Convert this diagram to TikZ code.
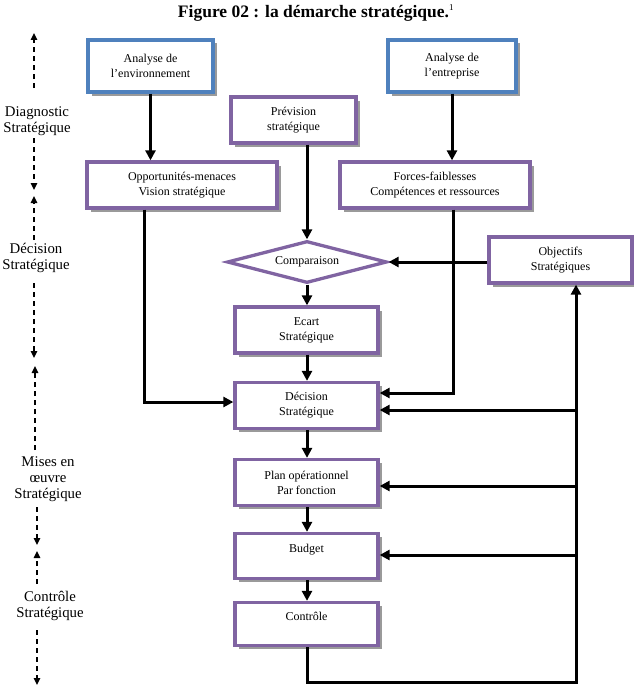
\documentclass[tikz,border=0pt]{standalone}
\usepackage{fontspec}
\setmainfont{Liberation Serif}
\usetikzlibrary{arrows.meta,shapes.geometric,shadows}
\definecolor{pur}{HTML}{8064A2}
\definecolor{blu}{HTML}{4F81BD}
\definecolor{shd}{HTML}{9A9A9A}
\begin{document}
\begin{tikzpicture}[x=1pt,y=-1pt,
  box/.style={rectangle, draw=pur, line width=3.3pt, fill=white, align=center,
    inner sep=0pt, font=\fontsize{12}{15}\selectfont,
    drop shadow={shadow xshift=3.5pt, shadow yshift=-3.5pt, fill=shd, opacity=1}},
  bbox/.style={box, draw=blu},
  cmpbox/.style={diamond, draw=pur, line width=3.3pt, fill=white, inner sep=0pt,
    aspect=3.8, minimum width=160pt, minimum height=42pt, font=\fontsize{12}{15}\selectfont},
  arr/.style={line width=3pt, line join=miter, -{Triangle[length=10pt,width=10pt]}},
  side/.style={line width=1.6pt, dash pattern=on 5pt off 4pt, -{Triangle[length=7pt,width=6.5pt]}},
  sidelbl/.style={align=center, font=\fontsize{14.8}{16}\selectfont, inner sep=0pt}
]
\useasboundingbox (0,0) rectangle (634,693);

% title
\node[inner sep=0pt] (title) at (316,13) {\fontsize{17.5}{20}\selectfont\bfseries Figure 02 : la démarche stratégique.\textsuperscript{\mdseries\fontsize{9}{10}\selectfont 1}};

% boxes
\node[bbox, minimum width=125pt, minimum height=52pt] (env) at (150.5,66) {Analyse de\\l’environnement};
\node[bbox, minimum width=128pt, minimum height=52pt] (ent) at (452,66) {Analyse de\\l’entreprise};
\node[box, minimum width=125pt, minimum height=46pt] (prev) at (293.5,120) {Prévision\\stratégique};
\node[box, minimum width=190pt, minimum height=46pt] (opp) at (182,185) {Opportunités-menaces\\Vision stratégique};
\node[box, minimum width=190pt, minimum height=46pt] (frc) at (435,185) {Forces-faiblesses\\Compétences et ressources};
\node[box, minimum width=143pt, minimum height=46pt] (obj) at (560.5,260) {Objectifs\\Stratégiques};
\node[cmpbox] (cmp) at (307,262) {Comparaison};
\node[box, minimum width=143pt, minimum height=46pt] (ecart) at (306.5,330) {Ecart\\Stratégique};
\node[box, minimum width=143pt, minimum height=46pt] (dec) at (306.5,405.5) {Décision\\Stratégique};
\node[box, minimum width=143pt, minimum height=46pt] (plan) at (306.5,482.5) {Plan opérationnel\\Par fonction};
\node[box, minimum width=143pt, minimum height=45pt] (bud) at (306.5,556) {Budget\\\mbox{}};
\node[box, minimum width=143pt, minimum height=43pt] (ctl) at (306.5,624) {Contrôle\\\mbox{}};

% main arrows
\draw[arr] (env.south) -- (env.south |- opp.north);
\draw[arr] (ent.south) -- (ent.south |- frc.north);
\draw[arr] (prev.south -| cmp.north) -- (cmp.north);
\draw[arr] (cmp.south) -- (cmp.south |- ecart.north);
\draw[arr] (ecart.south -| cmp.south) -- (cmp.south |- dec.north);
\draw[arr] (dec.south -| cmp.south) -- (cmp.south |- plan.north);
\draw[arr] (plan.south -| cmp.south) -- (cmp.south |- bud.north);
\draw[arr] (bud.south -| cmp.south) -- (cmp.south |- ctl.north);
\draw[arr] (obj.west |- cmp.east) -- (cmp.east);

\coordinate (o1) at (144,402);
\draw[arr] (opp.south -| o1) -- (o1) -- (o1 -| dec.west);
\coordinate (f1) at (453,393);
\draw[arr] (frc.south -| f1) -- (f1) -- (f1 -| dec.east);

% feedback loop
\coordinate (fb) at (576,682);
\draw[arr] (ctl.south -| cmp.south) -- (cmp.south |- fb) -- (fb) -- (fb |- obj.south);
\coordinate (b1) at (576,410);
\coordinate (b2) at (576,486);
\coordinate (b3) at (576,555);
\draw[arr] (b1) -- (b1 -| dec.east);
\draw[arr] (b2) -- (b2 -| plan.east);
\draw[arr] (b3) -- (b3 -| bud.east);

% side phases
\coordinate (s1a) at (34,88);  \coordinate (s1b) at (34,33);
\coordinate (s2a) at (34,138); \coordinate (s2b) at (34,190);
\coordinate (s3a) at (34,240); \coordinate (s3b) at (34,196);
\coordinate (s4a) at (34,283); \coordinate (s4b) at (34,358);
\coordinate (s5a) at (35,450); \coordinate (s5b) at (35,366);
\coordinate (s6a) at (37,507); \coordinate (s6b) at (37,545);
\coordinate (s7a) at (37,584); \coordinate (s7b) at (37,551);
\coordinate (s8a) at (37,630); \coordinate (s8b) at (37,685);
\foreach \i in {1,...,8} \draw[side] (s\i a) -- (s\i b);

\node[sidelbl] (l1) at (37,121) {Diagnostic\\Stratégique};
\node[sidelbl] (l2) at (36,258) {Décision\\Stratégique};
\node[sidelbl] (l3) at (48,479) {Mises en\\œuvre\\Stratégique};
\node[sidelbl] (l4) at (50,606) {Contrôle\\Stratégique};
\end{tikzpicture}
\end{document}
